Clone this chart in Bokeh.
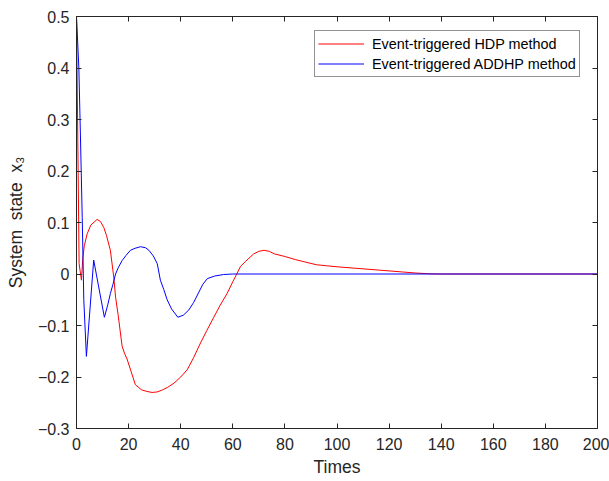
from bokeh.plotting import figure
from bokeh.models import LinearAxis, Range1d, Legend, LegendItem, FixedTicker, CustomJSTickFormatter
from bokeh.embed import file_html
from bokeh.resources import INLINE

# ---- data ----
hdp_t = [0, 1, 1.9, 2.4, 3.0, 4.1, 5.5, 7.9, 9.2, 10.5, 11.5, 13, 14.3, 15, 16, 17.5, 18.5, 19.4,
         21, 22.6, 25, 27, 29, 31, 33, 35, 37.4, 40, 42.5, 45, 47.6, 50, 52.7, 55, 57.8, 60, 61.5,
         63, 65, 68, 70, 72, 74, 76, 80, 84, 88, 92, 96, 100, 105, 110, 115, 120, 125, 130, 135,
         140, 200]
hdp_x3 = [0.5, 0.02, -0.012, 0.03, 0.055, 0.078, 0.095, 0.106, 0.102, 0.09, 0.075, 0.046, -0.006,
          -0.045, -0.08, -0.14, -0.155, -0.165, -0.19, -0.215, -0.225, -0.228, -0.23, -0.229,
          -0.225, -0.22, -0.212, -0.2, -0.186, -0.162, -0.134, -0.11, -0.084, -0.062, -0.038,
          -0.015, 0.0, 0.015, 0.025, 0.039, 0.044, 0.046, 0.044, 0.039, 0.034, 0.028, 0.023,
          0.018, 0.016, 0.014, 0.012, 0.01, 0.008, 0.006, 0.004, 0.002, 0.0005, 0.0, 0.0]

addhp_t = [0, 0.9, 1.5, 2.2, 2.8, 3.8, 6.6, 10.7, 12, 13, 14, 15, 16, 17.5, 19, 20.7, 22.5, 24.6,
           26.5, 27.8, 29.5, 31, 32.2, 33.5, 34.8, 36.5, 38.9, 41, 43.1, 45, 47, 48.5, 50.2, 53,
           56.5, 60, 200]
addhp_x3 = [0.5, 0.4, 0.27, 0.11, -0.05, -0.16, 0.027, -0.084, -0.06, -0.038, -0.02, 0.0, 0.012,
            0.026, 0.036, 0.046, 0.05, 0.053, 0.051, 0.046, 0.035, 0.02, -0.012, -0.03, -0.05,
            -0.068, -0.084, -0.08, -0.07, -0.055, -0.035, -0.02, -0.009, -0.004, -0.001, 0.0, 0.0]

x_ticks = [0, 20, 40, 60, 80, 100, 120, 140, 160, 180, 200]
y_ticks = [-0.3, -0.2, -0.1, 0, 0.1, 0.2, 0.3, 0.4, 0.5]
series_labels = ["Event-triggered HDP method", "Event-triggered ADDHP method"]

FONT = "Liberation Sans"
AX = "#262626"

p = figure(frame_width=521, frame_height=412, output_backend="svg", toolbar_location=None,
           x_range=Range1d(0, 200), y_range=Range1d(-0.3, 0.5),
           min_border_left=76, min_border_top=16, min_border_right=12, min_border_bottom=53)
p.grid.visible = False
p.outline_line_color = AX
p.outline_line_width = 1
p.background_fill_color = "white"
p.border_fill_color = "white"

r1 = p.line(hdp_t, hdp_x3, line_color="#ff0000", line_width=1)
r2 = p.line(addhp_t, addhp_x3, line_color="#0000ff", line_width=1)

p.xaxis.ticker = FixedTicker(ticks=x_ticks)
p.yaxis.ticker = FixedTicker(ticks=y_ticks)
p.yaxis.major_label_overrides = {0: "0"}
for ax in (p.xaxis[0], p.yaxis[0]):
    ax.major_tick_in = 5
    ax.major_tick_out = 0
    ax.minor_tick_in = 0
    ax.minor_tick_out = 0
    ax.axis_line_color = AX
    ax.major_tick_line_color = AX
    ax.major_label_text_font = FONT
    ax.major_label_text_font_size = "16px"
    ax.major_label_text_color = AX
    ax.axis_label_text_font = FONT
    ax.axis_label_text_font_size = "17.5px"
    ax.axis_label_text_font_style = "normal"
    ax.axis_label_text_color = AX
p.xaxis.major_label_standoff = 9
p.yaxis.major_label_standoff = 7
p.xaxis.axis_label = "Times"
p.xaxis.axis_label_standoff = 4
p.yaxis.axis_label = "System\u00a0\u00a0state\u00a0\u00a0x\u2083"
p.yaxis.axis_label_standoff = 9

blank = CustomJSTickFormatter(code="return '';")
top = LinearAxis(ticker=FixedTicker(ticks=x_ticks), major_tick_in=5, major_tick_out=0,
                 minor_tick_in=0, minor_tick_out=0, formatter=blank,
                 axis_line_color=AX, major_tick_line_color=AX, major_label_standoff=0)
right = LinearAxis(ticker=FixedTicker(ticks=y_ticks), major_tick_in=5, major_tick_out=0,
                   minor_tick_in=0, minor_tick_out=0, formatter=blank,
                   axis_line_color=AX, major_tick_line_color=AX, major_label_standoff=0)
p.add_layout(top, "above")
p.add_layout(right, "right")

legend = Legend(items=[LegendItem(label=series_labels[0], renderers=[r1]),
                       LegendItem(label=series_labels[1], renderers=[r2])],
                location=(238, 351))
legend.label_text_font = FONT
legend.label_text_font_size = "14.4px"
legend.label_text_color = "#000000"
legend.glyph_width = 46
legend.glyph_height = 13
legend.label_height = 19
legend.label_standoff = 8
legend.spacing = 1
legend.padding = 3
legend.margin = 0
legend.border_line_color = AX
legend.border_line_width = 1
legend.background_fill_color = "white"
p.add_layout(legend, "center")

open("out.html", "w").write(file_html(p, INLINE))
